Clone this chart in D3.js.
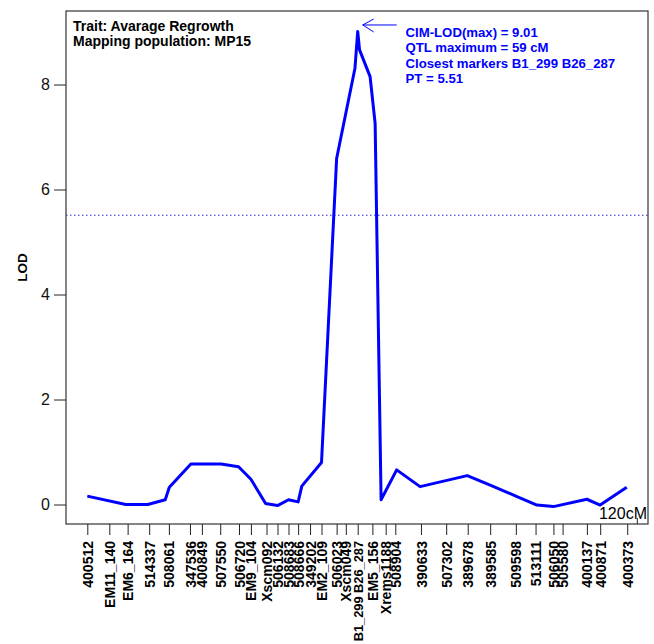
<!DOCTYPE html>
<html>
<head>
<meta charset="utf-8">
<script src="https://cdn.jsdelivr.net/npm/d3@7"></script>
<style>
  body { margin: 0; background: #fff; }
  svg { font-family: "Liberation Sans", Arial, Helvetica, sans-serif; }
</style>
</head>
<body>
<div id="container"></div>
<script>
/* DATA */
const markerNames = ["400512", "EM11_140", "EM6_164", "514337", "508061", "347536", "400849",
  "507550", "506720", "EM9_104", "Xscm092", "506132", "508683", "508666", "349202", "EM2_109",
  "506023", "Xscm049", "B1_299 B26_287", "EM5_156", "Xrems1188", "508904", "390633", "507302",
  "389678", "389585", "509598", "513111", "506050", "505580", "400137", "400871", "400373"];
const markerPos = [0, 4.8, 8.8, 13.5, 17.8, 22.4, 25.0, 29.0, 33.1, 35.7, 39.1, 41.5, 43.9, 46.0,
  48.6, 51.1, 54.4, 56.4, 59.0, 62.2, 65.1, 67.2, 72.8, 78.3, 83.0, 87.9, 93.5, 97.8, 101.7,
  103.7, 109.0, 111.9, 117.8];

// CIM scan (cM, LOD)
const scanPos = [0, 8.4, 13.2, 17.0, 17.9, 22.6, 29.2, 33.0, 35.7, 38.9, 41.5, 43.9, 46.0, 46.8,
  51.1, 54.4, 58.4, 59.0, 59.4, 61.7, 62.8, 64.1, 67.5, 72.6, 82.9, 87.9, 93.5, 98.1, 101.7,
  109.0, 111.9, 117.7];
const scanLod = [0.16, 0.0, 0.0, 0.09, 0.33, 0.77, 0.77, 0.72, 0.48, 0.02, -0.02, 0.09, 0.05, 0.35,
  0.80, 6.59, 8.31, 9.01, 8.66, 8.15, 7.26, 0.09, 0.66, 0.34, 0.55, 0.37, 0.16, -0.01, -0.04,
  0.10, -0.01, 0.33];

const yTicks = [0, 2, 4, 6, 8];
const threshold = 5.51;
const peak = { pos: 59, lod: 9.01 };
const infoLines = ["Trait: Avarage Regrowth", "Mapping population: MP15"];
const peakLines = ["CIM-LOD(max) = 9.01", "QTL maximum = 59 cM",
  "Closest markers B1_299 B26_287", "PT = 5.51"];

/* LAYOUT */
const width = 654, height = 644;
const box = { left: 66, top: 11, right: 648, bottom: 524 };

const svg = d3.select("#container").append("svg")
  .attr("width", width)
  .attr("height", height);

const xScale = d3.scaleLinear().domain([0, 120]).range([87.3, 637.3]);
const yScale = d3.scaleLinear().domain([0, 8]).range([504.5, 84.5]);

// threshold (dotted)
svg.append("line")
  .attr("x1", box.left).attr("x2", box.right)
  .attr("y1", yScale(threshold)).attr("y2", yScale(threshold))
  .attr("stroke", "#2a2ad0")
  .attr("stroke-width", 1)
  .attr("stroke-dasharray", "1.5,2.5");

// LOD curve
const line = d3.line()
  .x((d, i) => xScale(scanPos[i]))
  .y(d => yScale(d));

svg.append("path")
  .datum(scanLod)
  .attr("d", line)
  .attr("fill", "none")
  .attr("stroke", "#0000ff")
  .attr("stroke-width", 3)
  .attr("stroke-linejoin", "round");

// plot box
svg.append("rect")
  .attr("x", box.left).attr("y", box.top)
  .attr("width", box.right - box.left)
  .attr("height", box.bottom - box.top)
  .attr("fill", "none")
  .attr("stroke", "#333")
  .attr("stroke-width", 1.2);

// Y AXIS
const yAxis = svg.append("g")
  .attr("transform", `translate(${box.left},0)`)
  .call(d3.axisLeft(yScale).tickValues(yTicks).tickSize(12).tickPadding(4).tickFormat(d3.format("d")));
yAxis.select(".domain").remove();
yAxis.selectAll("line").attr("stroke", "#222");
yAxis.selectAll("text")
  .attr("font-size", 16)
  .attr("font-family", "Liberation Sans, Arial, sans-serif")
  .attr("fill", "#111");

svg.append("text")
  .attr("transform", `translate(27,${(box.top + box.bottom) / 2}) rotate(-90)`)
  .attr("text-anchor", "middle")
  .attr("font-size", 13.5)
  .attr("font-weight", "bold")
  .text("LOD");

// X AXIS (markers)
const xAxis = svg.append("g")
  .attr("transform", `translate(0,${box.bottom})`)
  .call(d3.axisBottom(xScale).tickValues(markerPos).tickSize(11)
    .tickFormat((d, i) => markerNames[i]));
xAxis.select(".domain").remove();
xAxis.selectAll("line").attr("stroke", "#222");
xAxis.selectAll("text")
  .attr("transform", "rotate(-90)")
  .attr("x", -17)
  .attr("y", 0)
  .attr("dy", "0.36em")
  .attr("text-anchor", "end")
  .attr("font-size", 14)
  .attr("font-weight", "bold")
  .attr("font-family", "Liberation Sans, Arial, sans-serif")
  .attr("fill", "#000");

// the merged label is long: shrink it a little so it stays on the page
xAxis.selectAll("text")
  .filter(function() { return this.getComputedTextLength() > 100; })
  .attr("font-size", 12.8);

// 120 cM end mark
svg.append("line")
  .attr("x1", xScale(120)).attr("x2", xScale(120))
  .attr("y1", box.bottom - 6).attr("y2", box.bottom)
  .attr("stroke", "#222");
svg.append("text")
  .attr("x", box.right - 1)
  .attr("y", box.bottom - 5)
  .attr("text-anchor", "end")
  .attr("font-size", 16)
  .text("120cM");

// ANNOTATIONS
svg.selectAll(".info")
  .data(infoLines)
  .join("text")
  .attr("class", "info")
  .attr("x", 73)
  .attr("y", (_, i) => 30.5 + i * 15.5)
  .attr("font-size", 14)
  .attr("font-weight", "bold")
  .text(d => d);

const tipX = xScale(peak.pos) + 5, tipY = yScale(peak.lod) - 6.5;
svg.append("path")
  .attr("d", `M${tipX + 34},${tipY}H${tipX}M${tipX + 11},${tipY - 6}L${tipX},${tipY}L${tipX + 11},${tipY + 7}`)
  .attr("fill", "none")
  .attr("stroke", "#0000ff")
  .attr("stroke-width", 1);

svg.selectAll(".peak")
  .data(peakLines)
  .join("text")
  .attr("class", "peak")
  .attr("x", 405.5)
  .attr("y", (_, i) => 36.5 + i * 15.5)
  .attr("font-size", 13.2)
  .attr("font-weight", "bold")
  .attr("fill", "#0000ff")
  .text(d => d);
</script>
</body>
</html>
